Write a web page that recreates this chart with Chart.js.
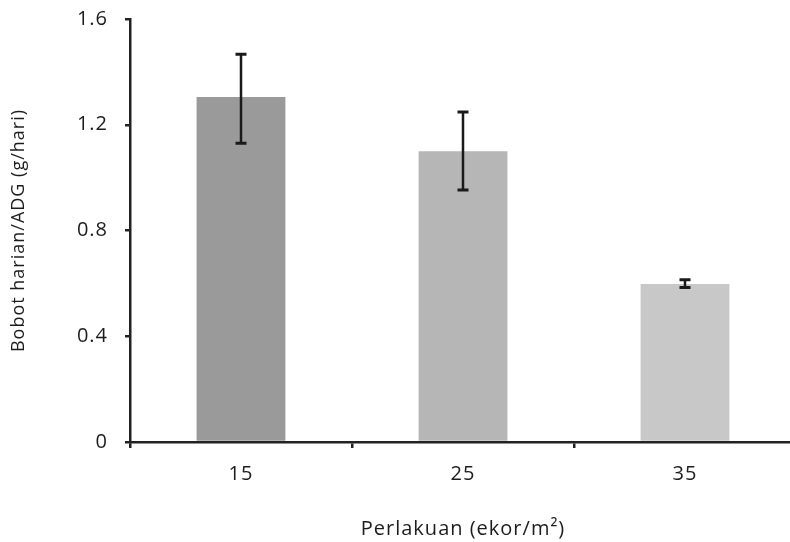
<!DOCTYPE html>
<html>
<head>
<meta charset="utf-8">
<script src="https://cdn.jsdelivr.net/npm/chart.js@4/dist/chart.umd.min.js"></script>
<style>
html,body{margin:0;padding:0;background:#fff;overflow:hidden;}
#wrap{width:798px;height:542px;}
</style>
</head>
<body>
<div id="wrap"><canvas id="c" width="798" height="542"></canvas></div>
<script>
const categories = ['15', '25', '35'];
const meanValues = [1.305, 1.10, 0.598];
const errLow = [1.13, 0.953, 0.584];
const errHigh = [1.467, 1.248, 0.614];
const yTicks = [0, 0.4, 0.8, 1.2, 1.6];
const barColors = ['#999a99', '#b5b6b5', '#c8c8c8'];

const FONT = "'Open Sans', 'DejaVu Sans', sans-serif";
const TEXT = '#1c1c1c';
const SPACING = '1px';

const spacingPlugin = {
  id: 'spacing',
  beforeUpdate(chart) { chart.ctx.letterSpacing = SPACING; },
  beforeLayout(chart) { chart.ctx.letterSpacing = SPACING; },
  beforeDraw(chart) { chart.ctx.letterSpacing = SPACING; }
};

const errorBarPlugin = {
  id: 'errorBars',
  afterDatasetsDraw(chart) {
    const ctx = chart.ctx;
    const x = chart.scales.x, y = chart.scales.y;
    ctx.save();
    ctx.strokeStyle = '#1a1a1a';
    for (let i = 0; i < categories.length; i++) {
      const px = x.getPixelForValue(i);
      const yl = y.getPixelForValue(errLow[i]);
      const yh = y.getPixelForValue(errHigh[i]);
      ctx.lineWidth = 2.5;
      ctx.beginPath();
      ctx.moveTo(px, yl); ctx.lineTo(px, yh);
      ctx.stroke();
      ctx.lineWidth = 3;
      ctx.beginPath();
      ctx.moveTo(px - 5.5, yl); ctx.lineTo(px + 5.5, yl);
      ctx.moveTo(px - 5.5, yh); ctx.lineTo(px + 5.5, yh);
      ctx.stroke();
    }
    ctx.restore();
  }
};

new Chart(document.getElementById('c'), {
  type: 'bar',
  data: {
    labels: categories,
    datasets: [{
      data: meanValues,
      backgroundColor: barColors,
      borderWidth: 0,
      barPercentage: 0.4,
      categoryPercentage: 1.0
    }]
  },
  options: {
    responsive: false,
    animation: false,
    devicePixelRatio: 1,
    layout: { padding: { top: 19, left: 8, right: 2, bottom: 0 } },
    plugins: { legend: { display: false }, tooltip: { enabled: false } },
    scales: {
      x: {
        afterFit(scale) { scale.height = 100; scale.paddingLeft = 0; scale.paddingRight = 0; },
        grid: { display: true, drawOnChartArea: false, drawTicks: true, tickLength: 6, color: '#222', lineWidth: 2.5, offset: true },
        border: { display: true, color: '#222', width: 2.5 },
        ticks: { color: TEXT, font: { family: FONT, size: 20 }, padding: 14 },
        title: { display: true, text: 'Perlakuan (ekor/m²)', color: TEXT, font: { family: FONT, size: 20 }, padding: { top: 20, bottom: 1 } }
      },
      y: {
        min: 0, max: 1.6,
        afterBuildTicks(scale) { scale.ticks = yTicks.map(v => ({ value: v })); },
        afterFit(scale) { scale.width = 122; scale.paddingTop = 0; scale.paddingBottom = 0; },
        grid: { display: true, drawOnChartArea: false, drawTicks: true, tickLength: 5, color: '#222', lineWidth: 2.5 },
        border: { display: true, color: '#222', width: 2.5 },
        ticks: {
          color: TEXT, font: { family: FONT, size: 20 }, padding: 17,
          callback(v) { return v === 0 ? '0' : v.toFixed(1); }
        },
        title: { display: true, text: 'Bobot harian/ADG (g/hari)', color: TEXT, font: { family: FONT, size: 18 }, padding: { top: 0, bottom: 10 } }
      }
    }
  },
  plugins: [spacingPlugin, errorBarPlugin]
});
</script>
</body>
</html>
